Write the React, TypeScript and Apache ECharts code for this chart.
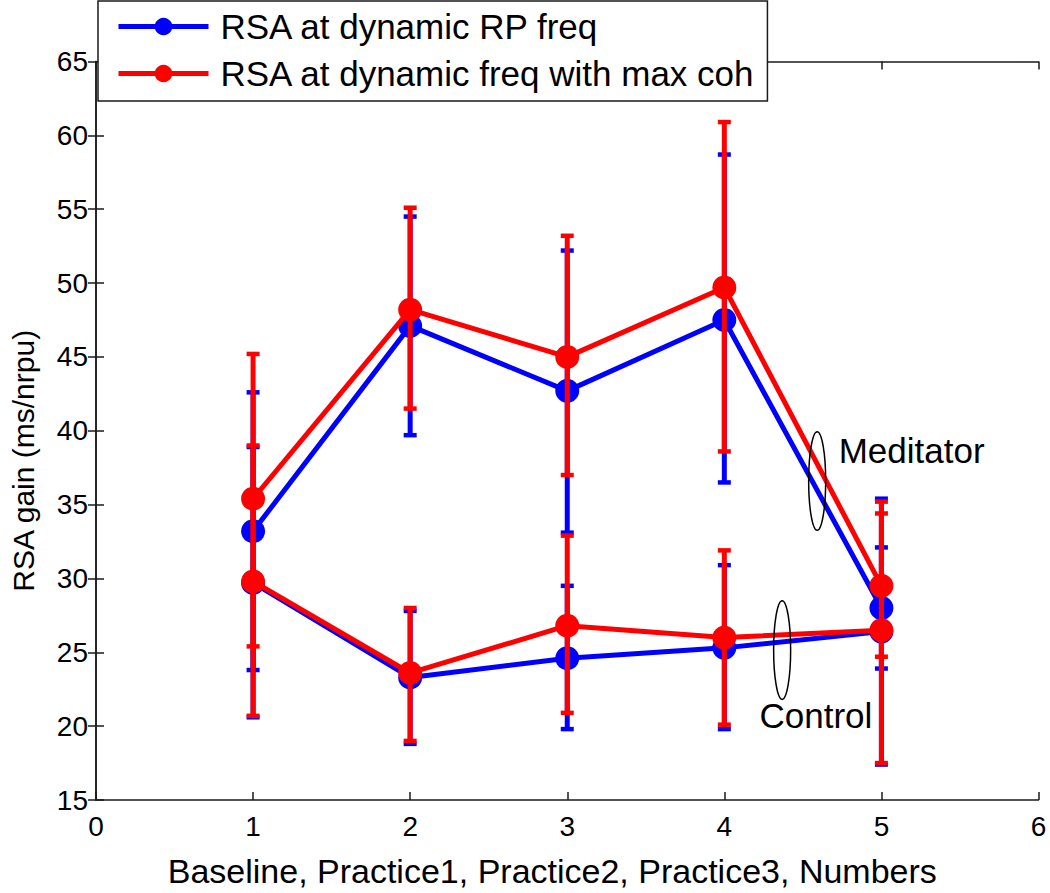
import React, { useEffect, useRef } from "react";
import * as echarts from "echarts";

// ---- data ----
const stages = [1, 2, 3, 4, 5];
const xTickValues = [0, 1, 2, 3, 4, 5, 6];
const yTickValues = [15, 20, 25, 30, 35, 40, 45, 50, 55, 60, 65];

// Meditator group
const medRP = [33.2, 47.1, 42.7, 47.5, 28.0];
const medRPLow = [23.8, 39.7, 33.1, 36.5, 23.9];
const medRPHigh = [42.6, 54.5, 52.2, 58.7, 32.1];
const medCoh = [35.4, 48.2, 45.0, 49.7, 29.5];
const medCohLow = [25.4, 41.5, 37.0, 38.6, 24.7];
const medCohHigh = [45.2, 55.1, 53.2, 60.9, 34.4];
// Control group
const ctlRP = [29.7, 23.3, 24.6, 25.3, 26.4];
const ctlRPLow = [20.6, 18.8, 19.8, 19.8, 17.4];
const ctlRPHigh = [38.9, 27.8, 29.5, 30.9, 35.4];
const ctlCoh = [29.8, 23.6, 26.8, 26.0, 26.5];
const ctlCohLow = [20.7, 19.0, 20.9, 20.1, 17.5];
const ctlCohHigh = [39.0, 28.0, 32.9, 31.9, 35.2];

const nameRP = "RSA at dynamic RP freq";
const nameCoh = "RSA at dynamic freq with max coh";
const xTitle = "Baseline, Practice1, Practice2, Practice3, Numbers";
const yTitle = "RSA gain (ms/nrpu)";

// annotation anchors (data space)
const medNote = { text: "Meditator", ex: 4.591, ey: 36.6, tx: 4.728, ty: 38.66 };
const ctlNote = { text: "Control", ex: 4.368, ey: 25.15, tx: 4.224, ty: 20.7 };
const ellipseHalfHeight = 3.34;

const BLUE = "#0000ff";
const RED = "#ff0000";
const FONT = "'Liberation Sans', Arial, Helvetica, sans-serif";

export default function App() {
  const ref = useRef<HTMLDivElement>(null);

  useEffect(() => {
    const chart = echarts.init(ref.current!, null, { renderer: "svg" });

    const lineSeries = (name: string, color: string, vals: number[], z: number) => ({
      type: "line",
      name,
      z,
      data: stages.map((x, i) => [x, vals[i]]),
      symbol: "circle",
      symbolSize: 24,
      showSymbol: true,
      lineStyle: { color, width: 5 },
      itemStyle: { color },
      emphasis: { disabled: true },
      silent: true,
    });

    const errSeries = (name: string, color: string, low: number[], high: number[], z: number) => ({
      type: "custom",
      name,
      z,
      silent: true,
      data: stages.map((x, i) => [x, low[i], high[i]]),
      encode: { x: 0, y: [1, 2] },
      renderItem: (_params: any, api: any) => {
        const x = api.value(0);
        const lo = api.coord([x, api.value(1)]);
        const hi = api.coord([x, api.value(2)]);
        const hw = 6.5;
        const capStyle = { stroke: color, lineWidth: 4.5 };
        return {
          type: "group",
          children: [
            { type: "line", shape: { x1: lo[0], y1: hi[1], x2: lo[0], y2: lo[1] }, style: { stroke: color, lineWidth: 5 } },
            { type: "line", shape: { x1: lo[0] - hw, y1: hi[1], x2: lo[0] + hw, y2: hi[1] }, style: capStyle },
            { type: "line", shape: { x1: lo[0] - hw, y1: lo[1], x2: lo[0] + hw, y2: lo[1] }, style: capStyle },
          ],
        };
      },
    });

    const axisLine = { show: true, lineStyle: { color: "#1a1a1a", width: 1.5 } };
    const axisTick = { show: true, inside: true, length: 8, lineStyle: { color: "#1a1a1a", width: 1.5 } };
    const labelStyle = { color: "#000", fontSize: 28, fontFamily: FONT };

    chart.setOption({
      animation: false,
      backgroundColor: "#fff",
      grid: { left: 86.5, right: 11.5, top: 61.5, bottom: 83.5, containLabel: false },
      legend: {
        show: true,
        data: [nameRP, nameCoh],
        orient: "vertical",
        left: 98,
        top: 1,
        padding: [6, 12, 8, 18],
        itemGap: 8,
        itemWidth: 90,
        itemHeight: 22,
        backgroundColor: "#fff",
        borderColor: "#1a1a1a",
        borderWidth: 1.5,
        borderRadius: 0,
        selectedMode: false,
        lineStyle: { width: 5 },
        textStyle: { color: "#000", fontSize: 35, fontFamily: FONT, lineHeight: 39, padding: [0, 0, 0, 7] },
        z: 10,
      },
      xAxis: [
        {
          type: "value",
          min: xTickValues[0],
          max: xTickValues[xTickValues.length - 1],
          interval: 1,
          axisLine,
          axisTick,
          splitLine: { show: false },
          axisLabel: { ...labelStyle, margin: 12 },
          name: xTitle,
          nameLocation: "middle",
          nameGap: 54,
          nameTextStyle: { color: "#000", fontSize: 34, fontFamily: FONT, padding: [0, 30, 0, 0] },
        },
        {
          type: "value",
          position: "top",
          min: xTickValues[0],
          max: xTickValues[xTickValues.length - 1],
          interval: 1,
          axisLine,
          axisTick,
          splitLine: { show: false },
          axisLabel: { show: false },
        },
      ],
      yAxis: [
        {
          type: "value",
          min: yTickValues[0],
          max: yTickValues[yTickValues.length - 1],
          interval: 5,
          axisLine,
          axisTick,
          splitLine: { show: false },
          axisLabel: { ...labelStyle, margin: 8 },
          name: yTitle,
          nameLocation: "middle",
          nameGap: 58,
          nameTextStyle: { color: "#000", fontSize: 30, fontFamily: FONT, padding: [0, 60, 0, 0] },
        },
        {
          type: "value",
          position: "right",
          min: yTickValues[0],
          max: yTickValues[yTickValues.length - 1],
          interval: 5,
          axisLine,
          axisTick,
          splitLine: { show: false },
          axisLabel: { show: false },
        },
      ],
      series: [
        lineSeries(nameRP, BLUE, medRP, 2),
        errSeries("errMedRP", BLUE, medRPLow, medRPHigh, 2),
        lineSeries(nameRP, BLUE, ctlRP, 2),
        errSeries("errCtlRP", BLUE, ctlRPLow, ctlRPHigh, 2),
        lineSeries(nameCoh, RED, medCoh, 3),
        errSeries("errMedCoh", RED, medCohLow, medCohHigh, 3),
        lineSeries(nameCoh, RED, ctlCoh, 3),
        errSeries("errCtlCoh", RED, ctlCohLow, ctlCohHigh, 3),
      ],
    });

    const toPx = (p: number[]) => chart.convertToPixel({ xAxisIndex: 0, yAxisIndex: 0 }, p) as number[];
    const note = (n: typeof medNote) => {
      const c = toPx([n.ex, n.ey]);
      const top = toPx([n.ex, n.ey + ellipseHalfHeight]);
      const t = toPx([n.tx, n.ty]);
      return [
        {
          type: "ellipse",
          shape: { cx: c[0], cy: c[1], rx: 8.5, ry: c[1] - top[1] },
          style: { fill: "none", stroke: "#000", lineWidth: 1.5 },
          z: 20,
        },
        {
          type: "text",
          x: t[0],
          y: t[1],
          style: { text: n.text, fill: "#000", fontSize: 35, fontFamily: FONT, align: "left", verticalAlign: "middle" },
          z: 20,
        },
      ];
    };
    chart.setOption({ graphic: [...note(medNote), ...note(ctlNote)] });

    return () => chart.dispose();
  }, []);

  return (
    <div
      ref={ref}
      style={{ position: "fixed", left: 0, top: 0, width: 1050, height: 893, background: "#fff" }}
    />
  );
}
